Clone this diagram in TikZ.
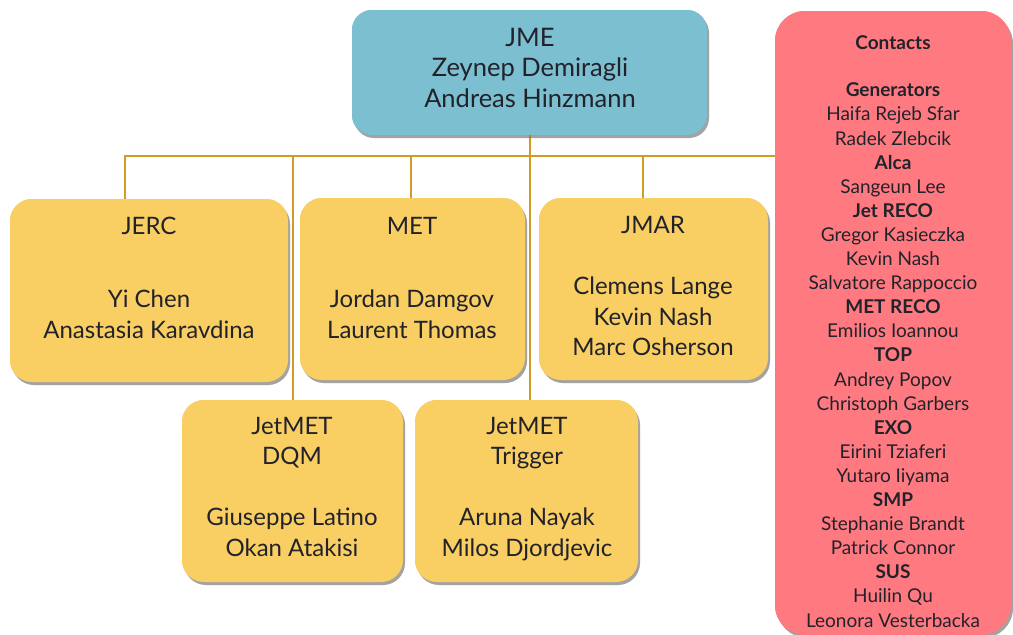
\documentclass[tikz,border=0pt]{standalone}
\usepackage{fontspec}
\setmainfont{Lato}
\usetikzlibrary{shadows}
\definecolor{leadblue}{HTML}{7BBFD0}
\definecolor{groupyellow}{HTML}{F9CF63}
\definecolor{contactpink}{HTML}{FF7A80}
\definecolor{buscolor}{HTML}{CF9C28}
\definecolor{inkdark}{HTML}{22222A}
\begin{document}
\begin{tikzpicture}[x=1pt,y=-1pt,
  basebox/.style={rectangle, draw=none, inner sep=0pt,
    drop shadow={shadow xshift=2pt, shadow yshift=-3pt, opacity=0.30, fill=black!70}},
  leadbox/.style={basebox, fill=leadblue, rounded corners=20pt},
  groupbox/.style={basebox, fill=groupyellow, rounded corners=22pt},
  contactbox/.style={basebox, fill=contactpink, rounded corners=30pt},
  boxtext/.style={align=center, text=inkdark, inner sep=0pt,
    font=\fontsize{24}{31}\selectfont},
  leadtext/.style={boxtext, font=\fontsize{25.5}{30.5}\selectfont},
  contacttext/.style={align=center, text=inkdark, inner sep=0pt,
    font=\fontsize{19}{24.1}\selectfont},
  bus/.style={draw=buscolor, line width=2.8pt}]

% canvas
\useasboundingbox (0,0) rectangle (1013,635);

% boxes (centre, width, height in px)
\node[leadbox, minimum width=355pt, minimum height=125pt] (jme) at (529.5,72.5) {};
\node[groupbox, minimum width=278pt, minimum height=183pt] (jerc) at (149,290.5) {};
\node[groupbox, minimum width=225pt, minimum height=182pt] (met) at (412.5,289) {};
\node[groupbox, minimum width=229pt, minimum height=182pt] (jmar) at (653.5,289) {};
\node[groupbox, minimum width=221pt, minimum height=182pt] (dqm) at (292.5,491) {};
\node[groupbox, minimum width=223pt, minimum height=182pt] (trig) at (526.5,491) {};
\node[contactbox, minimum width=236pt, minimum height=624pt] (contacts) at (893,323) {};

% connectors: one bus under the lead box, one drop per group
\coordinate (busL) at (125,156);
\coordinate (busDQM) at (293,156);
\coordinate (busMET) at (411,156);
\coordinate (busTRIG) at (530,156);
\coordinate (busJMAR) at (643,156);
\draw[bus] (busL |- jerc.north) -- (busL) -- (busL -| contacts.west);
\draw[bus] (busTRIG |- jme.south) -- (busTRIG |- trig.north);
\draw[bus] (busDQM) -- (busDQM |- dqm.north);
\draw[bus] (busMET) -- (busMET |- met.north);
\draw[bus] (busJMAR) -- (busJMAR |- jmar.north);

% redraw boxes over the connector ends
\node[leadbox, minimum width=355pt, minimum height=125pt] at (jme) {};
\node[groupbox, minimum width=278pt, minimum height=183pt] at (jerc) {};
\node[groupbox, minimum width=225pt, minimum height=182pt] at (met) {};
\node[groupbox, minimum width=229pt, minimum height=182pt] at (jmar) {};
\node[groupbox, minimum width=221pt, minimum height=182pt] at (dqm) {};
\node[groupbox, minimum width=223pt, minimum height=182pt] at (trig) {};
\node[contactbox, minimum width=236pt, minimum height=624pt] at (contacts) {};

% box texts
\node[leadtext] (jmeT) at (530,67.5) {JME\\Zeynep Demiragli\\Andreas Hinzmann};
\node[boxtext] (jercT) at (149,277.5) {JERC\\[42pt]Yi Chen\\Anastasia Karavdina};
\node[boxtext] (metT) at (412,277.5) {MET\\[42pt]Jordan Damgov\\Laurent Thomas};
\node[boxtext] (jmarT) at (653,286) {JMAR\\[30pt]Clemens Lange\\[-0.5pt]Kevin Nash\\[-0.5pt]Marc Osherson};
\node[boxtext] (dqmT) at (292,487) {JetMET\\[-1pt]DQM\\[30pt]Giuseppe Latino\\Okan Atakisi};
\node[boxtext] (trigT) at (527,489.5) {JetMET\\[-1pt]Trigger\\[30pt]Aruna Nayak\\Milos Djordjevic};

\node[contacttext] (contactsT) at (893,331.5) {%
  \textbf{Contacts}\\[23pt]
  \textbf{Generators}\\
  Haifa Rejeb Sfar\\
  Radek Zlebcik\\
  \textbf{Alca}\\
  Sangeun Lee\\
  \textbf{Jet RECO}\\
  Gregor Kasieczka\\
  Kevin Nash\\
  Salvatore Rappoccio\\
  \textbf{MET RECO}\\
  Emilios Ioannou\\
  \textbf{TOP}\\
  Andrey Popov\\
  Christoph Garbers\\
  \textbf{EXO}\\
  Eirini Tziaferi\\
  Yutaro Iiyama\\
  \textbf{SMP}\\
  Stephanie Brandt\\
  Patrick Connor\\
  \textbf{SUS}\\
  Huilin Qu\\
  Leonora Vesterbacka};
\end{tikzpicture}
\end{document}
